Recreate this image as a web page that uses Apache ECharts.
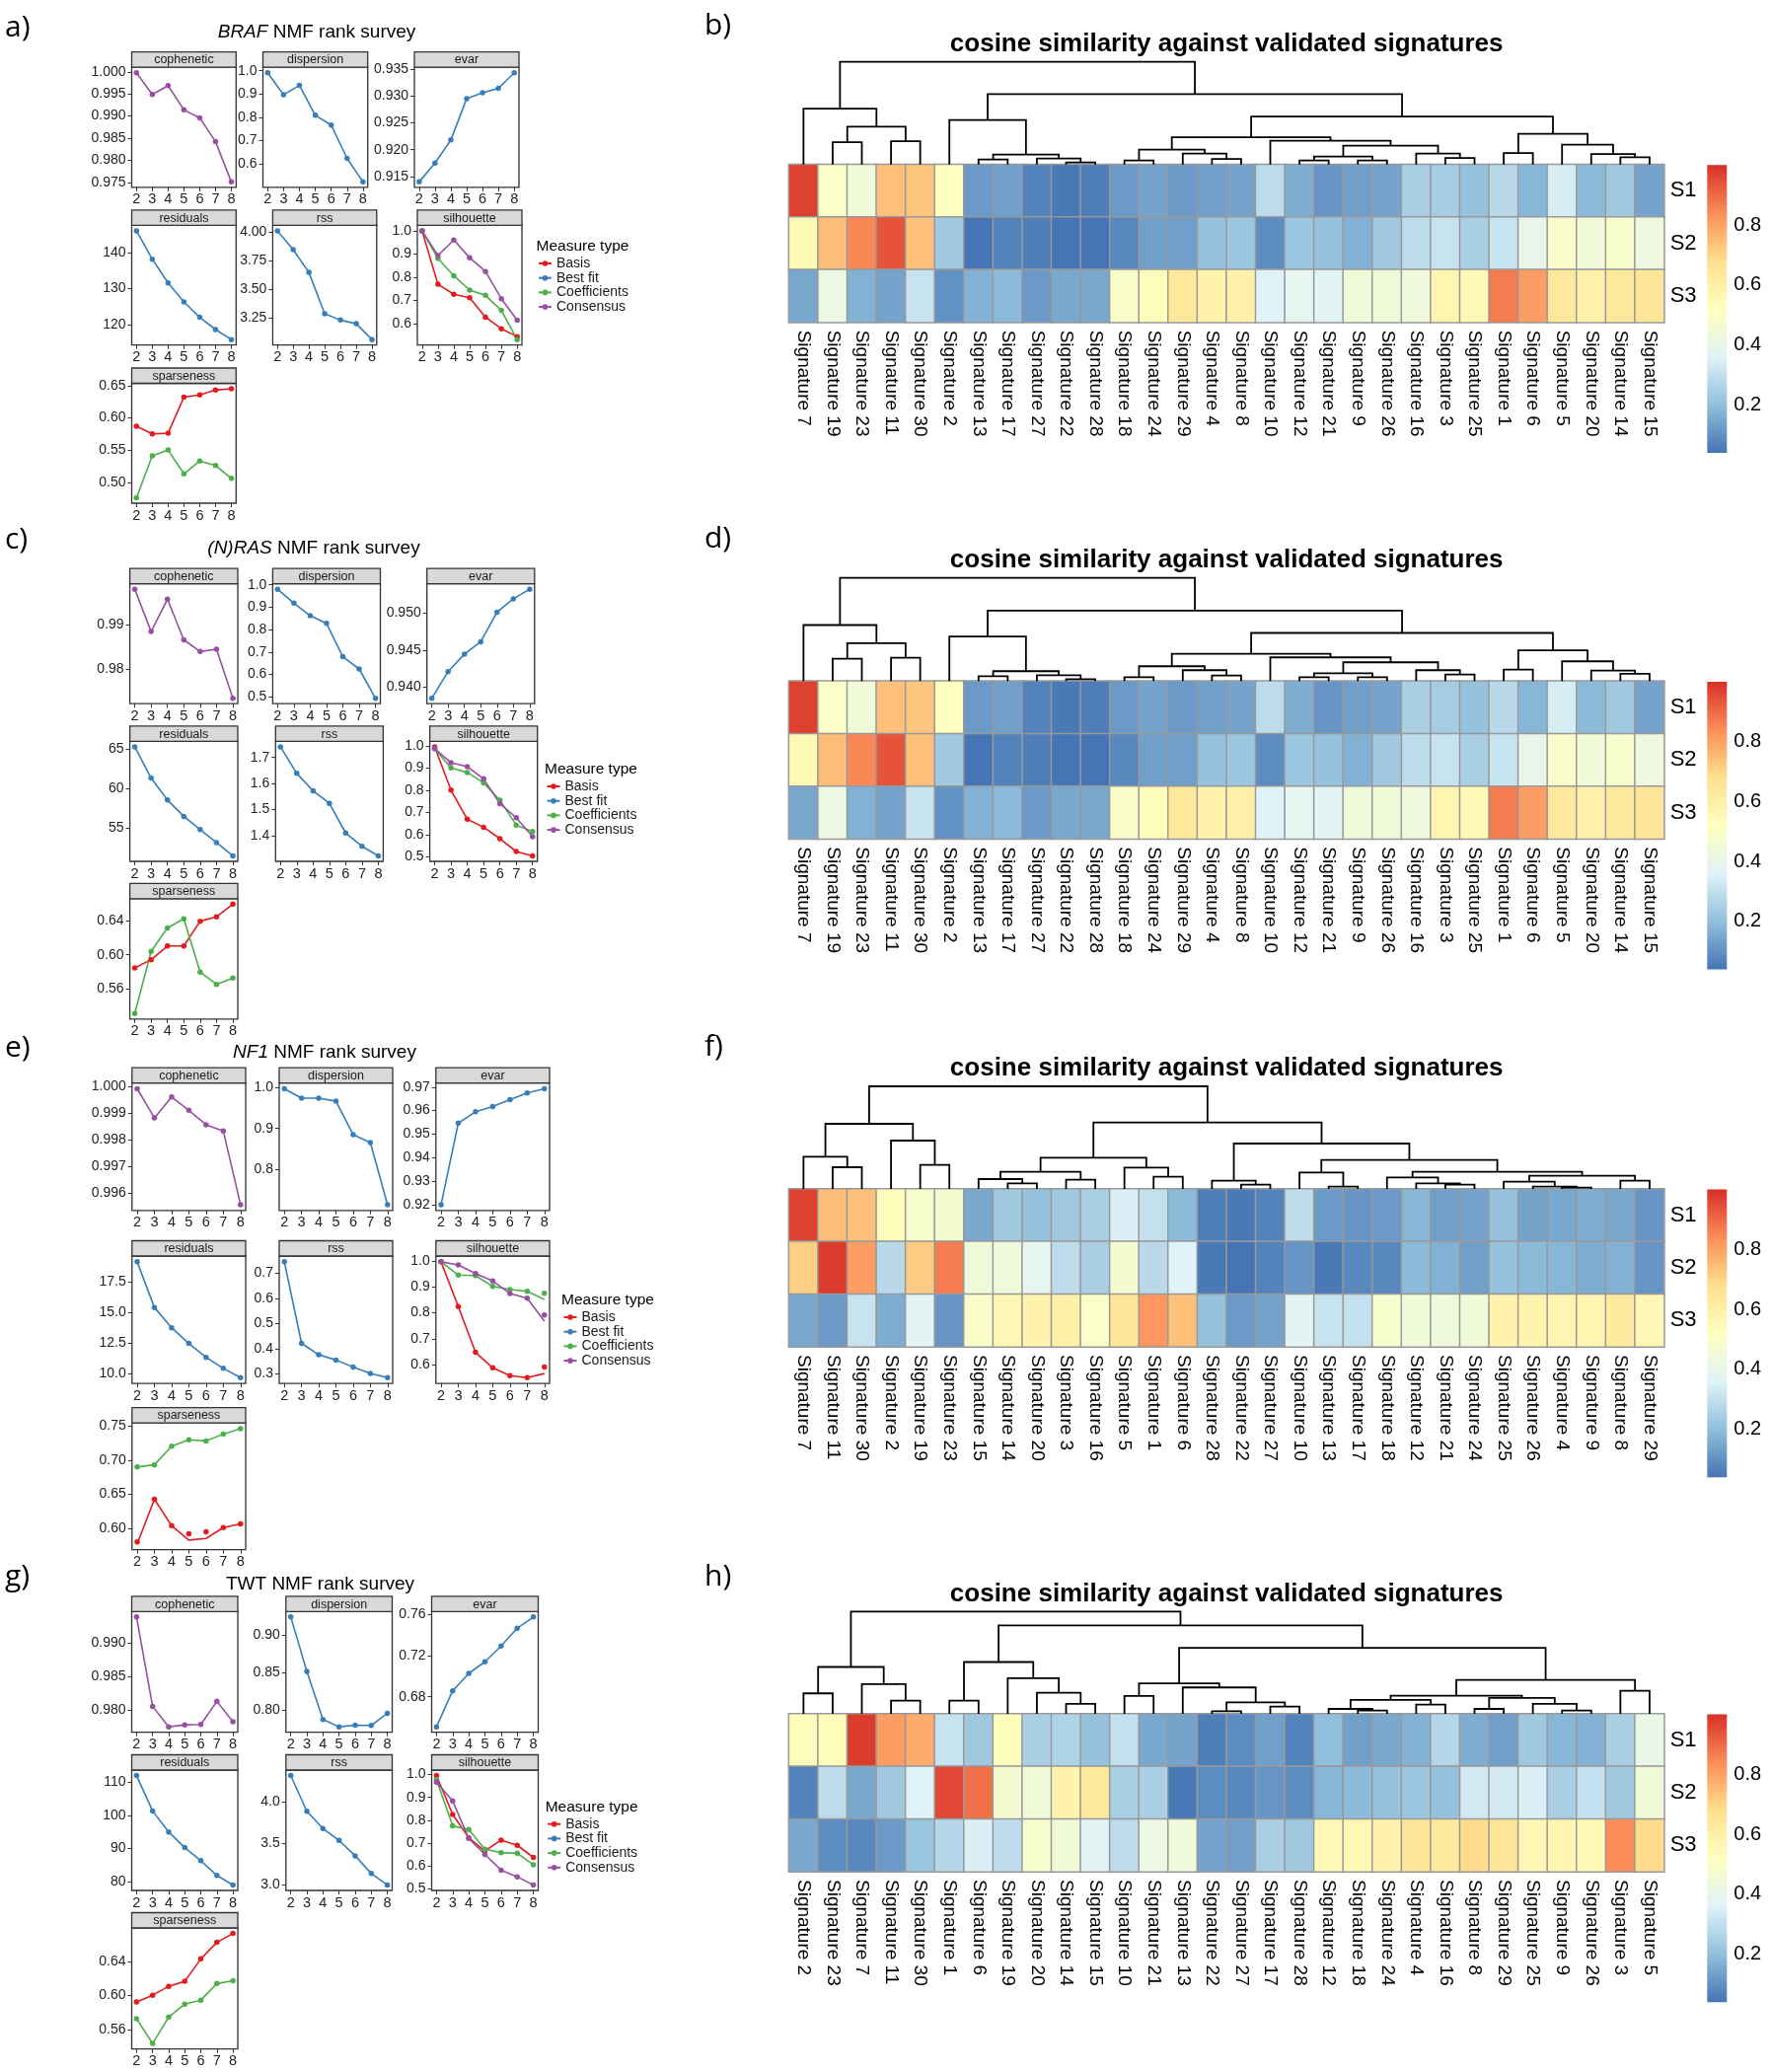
<!DOCTYPE html>
<html><head><meta charset="utf-8">
<script src="https://cdn.jsdelivr.net/npm/echarts@6/dist/echarts.min.js"></script>
<style>html,body{margin:0;padding:0;background:#fff}#c{width:1796px;height:2100px}</style>
</head><body><div id="c"></div>
<script>
// ---------------- DATA ----------------
const ranks = [2,3,4,5,6,7,8];
const measureTypes = ['Basis','Best fit','Coefficients','Consensus'];
const measureColors = ['#E41A1C','#377EB8','#4DAF4A','#984EA3'];

// BRAF
const braf_cophenetic = [0.9998,0.9949,0.9969,0.9914,0.9896,0.9842,0.9751];
const braf_dispersion = [0.9915,0.8975,0.937,0.809,0.767,0.624,0.523];
const braf_evar = [0.9140,0.9175,0.9218,0.9295,0.9306,0.9314,0.9343];
const braf_residuals = [146.1,138.2,131.6,126.3,122.0,118.6,115.8];
const braf_rss = [4.009,3.845,3.647,3.287,3.233,3.201,3.063];
const braf_silhouette_basis = [1.0,0.769,0.726,0.711,0.627,0.577,0.543];
const braf_silhouette_coef = [1.0,0.880,0.806,0.744,0.721,0.656,0.530];
const braf_silhouette_cons = [1.0,0.893,0.960,0.884,0.824,0.707,0.614];
const braf_sparseness_basis = [0.587,0.575,0.576,0.632,0.6355,0.643,0.645];
const braf_sparseness_coef = [0.476,0.541,0.550,0.513,0.533,0.526,0.506];
const braf_ticks_cophenetic = ['0.975','0.980','0.985','0.990','0.995','1.000'];
const braf_ticks_dispersion = ['0.6','0.7','0.8','0.9','1.0'];
const braf_ticks_evar = ['0.915','0.920','0.925','0.930','0.935'];
const braf_ticks_residuals = ['120','130','140'];
const braf_ticks_rss = ['3.25','3.50','3.75','4.00'];
const braf_ticks_silhouette = ['0.6','0.7','0.8','0.9','1.0'];
const braf_ticks_sparseness = ['0.50','0.55','0.60','0.65'];

// (N)RAS
const nras_cophenetic = [0.99811,0.98848,0.99583,0.98659,0.98394,0.98447,0.97333];
const nras_dispersion = [0.9807,0.918,0.862,0.828,0.6795,0.6246,0.494];
const nras_evar = [0.93852,0.94211,0.94448,0.94614,0.95013,0.95193,0.95323];
const nras_residuals = [65.34,61.36,58.56,56.48,54.79,53.14,51.44];
const nras_rss = [1.741,1.639,1.572,1.524,1.410,1.359,1.322];
const nras_silhouette_basis = [0.997,0.801,0.669,0.633,0.581,0.523,0.503];
const nras_silhouette_coef = [0.989,0.902,0.881,0.834,0.755,0.643,0.614];
const nras_silhouette_cons = [0.989,0.925,0.907,0.852,0.740,0.676,0.590];
const nras_sparseness_basis = [0.5843,0.5942,0.6105,0.6105,0.640,0.6452,0.6603];
const nras_sparseness_coef = [0.5301,0.6041,0.632,0.6428,0.5795,0.5648,0.5723];
const nras_ticks_cophenetic = ['0.98','0.99'];
const nras_ticks_dispersion = ['0.5','0.6','0.7','0.8','0.9','1.0'];
const nras_ticks_evar = ['0.940','0.945','0.950'];
const nras_ticks_residuals = ['55','60','65'];
const nras_ticks_rss = ['1.4','1.5','1.6','1.7'];
const nras_ticks_silhouette = ['0.5','0.6','0.7','0.8','0.9','1.0'];
const nras_ticks_sparseness = ['0.56','0.60','0.64'];

// NF1 (lines and points differ at some ranks)
const nf1_cophenetic = [0.99993,0.99884,0.99962,0.99912,0.99858,0.99835,0.99558];
const nf1_dispersion = [0.9974,0.9745,0.9745,0.9668,0.885,0.8655,0.7132];
const nf1_evar = [0.920,0.9547,0.9595,0.9617,0.9647,0.9675,0.9693];
const nf1_residuals = [19.11,15.40,13.75,12.48,11.35,10.45,9.69];
const nf1_rss = [0.7455,0.4214,0.3759,0.3552,0.3276,0.3014,0.2848];
const nf1_silhouette_basis_line = [0.997,0.824,0.648,0.588,0.558,0.550,0.566];
const nf1_silhouette_basis_pts  = [0.997,0.824,0.648,0.588,0.558,0.550,0.591];
const nf1_silhouette_coef_line = [0.997,0.946,0.944,0.902,0.890,0.883,0.852];
const nf1_silhouette_coef_pts  = [0.997,0.946,0.944,0.902,0.890,0.883,0.876];
const nf1_silhouette_cons_line = [0.997,0.985,0.952,0.923,0.875,0.857,0.768];
const nf1_silhouette_cons_pts  = [0.997,0.985,0.952,0.923,0.875,0.857,0.792];
const nf1_sparseness_basis_line = [0.577,0.6426,0.6037,0.5826,0.585,0.601,0.6063];
const nf1_sparseness_basis_pts  = [0.580,0.6426,0.6037,0.592,0.5947,0.601,0.6063];
const nf1_sparseness_coef = [0.690,0.6932,0.7205,0.730,0.7284,0.7384,0.7463];
const nf1_ticks_cophenetic = ['0.996','0.997','0.998','0.999','1.000'];
const nf1_ticks_dispersion = ['0.8','0.9','1.0'];
const nf1_ticks_evar = ['0.92','0.93','0.94','0.95','0.96','0.97'];
const nf1_ticks_residuals = ['10.0','12.5','15.0','17.5'];
const nf1_ticks_rss = ['0.3','0.4','0.5','0.6','0.7'];
const nf1_ticks_silhouette = ['0.6','0.7','0.8','0.9','1.0'];
const nf1_ticks_sparseness = ['0.60','0.65','0.70','0.75'];

// TWT
const twt_cophenetic = [0.99380,0.98059,0.97756,0.97785,0.9779,0.98132,0.9783];
const twt_dispersion = [0.9249,0.8516,0.7867,0.7769,0.7791,0.7787,0.7951];
const twt_evar = [0.6507,0.6858,0.7028,0.7141,0.7295,0.7468,0.7578];
const twt_residuals = [112.08,101.39,95.05,90.3,86.34,81.88,79.0];
const twt_rss = [4.312,3.881,3.672,3.530,3.344,3.130,2.992];
const twt_silhouette_basis = [0.996,0.825,0.723,0.665,0.713,0.690,0.637];
const twt_silhouette_coef = [0.978,0.775,0.759,0.673,0.658,0.655,0.605];
const twt_silhouette_cons = [0.967,0.885,0.720,0.650,0.581,0.552,0.516];
const twt_sparseness_basis = [0.5925,0.6003,0.6107,0.6165,0.6428,0.6622,0.6726];
const twt_sparseness_coef = [0.5728,0.5437,0.5747,0.5898,0.5945,0.6139,0.6173];
const twt_ticks_cophenetic = ['0.980','0.985','0.990'];
const twt_ticks_dispersion = ['0.80','0.85','0.90'];
const twt_ticks_evar = ['0.68','0.72','0.76'];
const twt_ticks_residuals = ['80','90','100','110'];
const twt_ticks_rss = ['3.0','3.5','4.0'];
const twt_ticks_silhouette = ['0.5','0.6','0.7','0.8','0.9','1.0'];
const twt_ticks_sparseness = ['0.56','0.60','0.64','0.68'];

// Heatmaps (cosine similarity), rows S1..S3
const rowNames = ['S1','S2','S3'];
const b_cols = ['Signature 7','Signature 19','Signature 23','Signature 11','Signature 30','Signature 2','Signature 13','Signature 17','Signature 27','Signature 22','Signature 28','Signature 18','Signature 24','Signature 29','Signature 4','Signature 8','Signature 10','Signature 12','Signature 21','Signature 9','Signature 26','Signature 16','Signature 3','Signature 25','Signature 1','Signature 6','Signature 5','Signature 20','Signature 14','Signature 15'];
const b_S1 = [0.97,0.50,0.45,0.74,0.73,0.52,0.12,0.13,0.07,0.05,0.06,0.12,0.14,0.12,0.13,0.14,0.29,0.16,0.11,0.13,0.14,0.25,0.24,0.21,0.28,0.18,0.34,0.19,0.23,0.14];
const b_S2 = [0.55,0.75,0.85,0.94,0.74,0.23,0.04,0.07,0.06,0.04,0.04,0.08,0.13,0.13,0.21,0.22,0.09,0.22,0.21,0.17,0.23,0.29,0.31,0.25,0.31,0.40,0.49,0.45,0.48,0.43];
const b_S3 = [0.15,0.42,0.17,0.14,0.31,0.10,0.17,0.19,0.12,0.15,0.15,0.49,0.53,0.64,0.58,0.59,0.36,0.39,0.37,0.45,0.45,0.44,0.57,0.55,0.87,0.81,0.64,0.59,0.64,0.65];
// merges: [childA, childB, height]; negative = leaf column (1-based), positive = earlier merge (1-based)
const b_merges = [[-2,-3,68],[-4,-5,71],[1,2,115],[-1,3,170],[-7,-8,15],[-10,-11,6],[-9,6,18],[5,7,30],[-6,8,135],[-12,-13,12],[-15,-16,17],[-14,11,33],[10,12,45],[-18,-19,12],[-20,-21,12],[14,15,24],[-23,-24,20],[-22,17,33],[16,18,57],[-17,19,72],[13,20,83],[-25,-26,35],[-29,-30,22],[-28,23,32],[-27,24,60],[22,25,93],[21,26,146],[9,27,214],[4,28,312]];

const d_cols = ['Signature 7','Signature 19','Signature 23','Signature 11','Signature 30','Signature 2','Signature 13','Signature 17','Signature 27','Signature 22','Signature 28','Signature 18','Signature 24','Signature 29','Signature 4','Signature 8','Signature 10','Signature 12','Signature 21','Signature 9','Signature 26','Signature 16','Signature 3','Signature 25','Signature 1','Signature 6','Signature 5','Signature 20','Signature 14','Signature 15'];
const d_S1 = [0.97,0.50,0.45,0.74,0.73,0.52,0.12,0.13,0.07,0.05,0.06,0.12,0.14,0.12,0.13,0.14,0.29,0.16,0.11,0.13,0.14,0.25,0.24,0.21,0.28,0.18,0.34,0.19,0.23,0.14];
const d_S2 = [0.55,0.75,0.85,0.94,0.74,0.23,0.04,0.07,0.06,0.04,0.04,0.08,0.13,0.13,0.21,0.22,0.09,0.22,0.21,0.17,0.23,0.29,0.31,0.25,0.31,0.40,0.49,0.45,0.48,0.43];
const d_S3 = [0.15,0.42,0.17,0.14,0.31,0.10,0.17,0.19,0.12,0.15,0.15,0.49,0.53,0.64,0.58,0.59,0.36,0.39,0.37,0.45,0.45,0.44,0.57,0.55,0.87,0.81,0.64,0.59,0.64,0.65];
const d_merges = [[-2,-3,68],[-4,-5,71],[1,2,115],[-1,3,170],[-7,-8,15],[-10,-11,6],[-9,6,18],[5,7,30],[-6,8,135],[-12,-13,12],[-15,-16,17],[-14,11,33],[10,12,45],[-18,-19,12],[-20,-21,12],[14,15,24],[-23,-24,20],[-22,17,33],[16,18,57],[-17,19,72],[13,20,83],[-25,-26,35],[-29,-30,22],[-28,23,32],[-27,24,60],[22,25,93],[21,26,146],[9,27,214],[4,28,313]];

const f_cols = ['Signature 7','Signature 11','Signature 30','Signature 2','Signature 19','Signature 23','Signature 15','Signature 14','Signature 20','Signature 3','Signature 16','Signature 5','Signature 1','Signature 6','Signature 28','Signature 22','Signature 27','Signature 10','Signature 13','Signature 17','Signature 18','Signature 12','Signature 21','Signature 24','Signature 25','Signature 26','Signature 4','Signature 9','Signature 8','Signature 29'];
const f_S1 = [0.97,0.75,0.74,0.53,0.48,0.47,0.15,0.23,0.21,0.23,0.25,0.35,0.30,0.19,0.06,0.05,0.07,0.29,0.12,0.11,0.12,0.18,0.13,0.14,0.21,0.14,0.15,0.16,0.15,0.11];
const f_S2 = [0.71,0.98,0.81,0.28,0.72,0.87,0.45,0.44,0.39,0.29,0.25,0.47,0.28,0.36,0.05,0.04,0.07,0.11,0.05,0.08,0.08,0.19,0.17,0.13,0.21,0.19,0.18,0.16,0.17,0.11];
const f_S3 = [0.15,0.12,0.31,0.16,0.37,0.11,0.49,0.56,0.58,0.60,0.50,0.65,0.82,0.74,0.21,0.12,0.14,0.37,0.31,0.30,0.48,0.45,0.44,0.45,0.58,0.58,0.57,0.57,0.63,0.56];
const f_merges = [[-2,-3,66],[-1,1,98],[-5,-6,73],[-4,3,147],[2,4,198],[-8,-9,17],[-7,6,30],[-10,-11,28],[7,8,52],[-13,-14,37],[-12,10,65],[9,11,95],[-16,-17,13],[-15,13,25],[-19,-20,7],[-18,15,50],[-23,-24,13],[-22,17,17],[-21,18,35],[-27,-28,4],[-26,20,7],[-25,21,22],[-29,-30,25],[22,23,40],[19,24,52],[16,25,88],[14,26,138],[12,27,202],[5,28,312]];

const h_cols = ['Signature 2','Signature 23','Signature 7','Signature 11','Signature 30','Signature 1','Signature 6','Signature 19','Signature 20','Signature 14','Signature 15','Signature 10','Signature 21','Signature 13','Signature 22','Signature 27','Signature 17','Signature 28','Signature 12','Signature 18','Signature 24','Signature 4','Signature 16','Signature 8','Signature 29','Signature 25','Signature 9','Signature 26','Signature 3','Signature 5'];
const h_S1 = [0.53,0.53,0.98,0.81,0.78,0.31,0.23,0.53,0.25,0.26,0.21,0.30,0.15,0.14,0.06,0.09,0.13,0.07,0.20,0.13,0.15,0.17,0.27,0.16,0.13,0.23,0.18,0.17,0.25,0.41];
const h_S2 = [0.07,0.29,0.15,0.23,0.36,0.96,0.89,0.47,0.45,0.58,0.64,0.25,0.25,0.05,0.09,0.08,0.11,0.09,0.18,0.19,0.21,0.22,0.21,0.33,0.33,0.35,0.25,0.30,0.23,0.45];
const h_S3 = [0.15,0.09,0.08,0.12,0.22,0.27,0.35,0.29,0.48,0.45,0.37,0.29,0.42,0.44,0.14,0.13,0.25,0.23,0.55,0.56,0.58,0.66,0.64,0.69,0.66,0.56,0.57,0.55,0.84,0.69];
const h_merges = [[-1,-2,62],[-4,-5,40],[-3,2,90],[1,3,142],[-6,-7,40],[-10,-11,30],[-9,6,64],[-8,7,108],[5,8,157],[-12,-13,54],[-15,-16,8],[-17,-18,22],[11,12,35],[-14,13,80],[10,14,92],[-20,-21,10],[-19,16,15],[-22,-23,28],[17,18,42],[-24,-25,15],[-27,-28,10],[-26,21,30],[20,22,48],[19,23,55],[-29,-30,70],[24,25,103],[15,26,200],[9,27,268],[4,28,310]];

const cbMin = 0.04, cbMax = 1.0;
const cbTicks = [0.2,0.4,0.6,0.8];
const palette = ['#4575B4','#91BFDB','#E0F3F8','#FFFFBF','#FEE090','#FC8D59','#D73027'];

// ---------------- LAYOUT ----------------
const FONT = '"Liberation Sans", Arial, Helvetica, sans-serif';
const LETTER_FONT = '"Open Sans", "Liberation Sans", sans-serif';
const STRIP_H = 15.5;
const PANEL_ROW = {cophenetic:0, dispersion:0, evar:0, residuals:1, rss:1, silhouette:1, sparseness:2};
const L_braf = {rows:[[68.2,189.9],[228.4,349.7],[388.5,510]], x:{cophenetic:[133.5,239.3],dispersion:[266.5,372.7],evar:[420,526],residuals:[133.5,239.3],rss:[276.4,381.8],silhouette:[423,529],sparseness:[133.5,239.3]}, legend:[543.5,250], title:[321,33], letter:[5,28]};
const L_nras = {rows:[[591.6,713.2],[751.4,873],[910.8,1032.8]], x:{cophenetic:[131.6,241],dispersion:[276.4,385.5],evar:[432.7,541.8],residuals:[131.6,241],rss:[279.3,388.4],silhouette:[435.6,544.7],sparseness:[131.6,241]}, legend:[552,780], title:[318,556], letter:[5,547]};
const L_nf1 = {rows:[[1097.6,1226.8],[1273,1402.2],[1442.2,1570.6]], x:{cophenetic:[133.8,249],dispersion:[283,398],evar:[441.8,557],residuals:[133.8,249],rss:[283,398],silhouette:[441.8,557],sparseness:[133.8,249]}, legend:[569,1318], title:[329,1067], letter:[5,1062]};
const L_twt = {rows:[[1633.3,1755.7],[1794,1916],[1954,2076.7]], x:{cophenetic:[133.5,241],dispersion:[289.8,397.5],evar:[437.5,545.5],residuals:[133.5,241],rss:[289.8,397.5],silhouette:[437.5,545.5],sparseness:[133.5,241]}, legend:[552.7,1831.7], title:[324.5,1606], letter:[5,1598]};

const HM_LEFT = 799.6, HM_W = 887.1, HM_H = 160;
const CB_LEFT = 1730.3, CB_W = 20, CB_H = 291.7;

const surveys = [
  {title:'{i|BRAF} NMF rank survey', letter:'a)', L:L_braf, panels:[
    {m:'cophenetic', ticks:braf_ticks_cophenetic, s:[{t:'Consensus', v:braf_cophenetic}]},
    {m:'dispersion', ticks:braf_ticks_dispersion, s:[{t:'Best fit', v:braf_dispersion}]},
    {m:'evar', ticks:braf_ticks_evar, s:[{t:'Best fit', v:braf_evar}]},
    {m:'residuals', ticks:braf_ticks_residuals, s:[{t:'Best fit', v:braf_residuals}]},
    {m:'rss', ticks:braf_ticks_rss, s:[{t:'Best fit', v:braf_rss}]},
    {m:'silhouette', ticks:braf_ticks_silhouette, s:[{t:'Basis', v:braf_silhouette_basis},{t:'Coefficients', v:braf_silhouette_coef},{t:'Consensus', v:braf_silhouette_cons}]},
    {m:'sparseness', ticks:braf_ticks_sparseness, s:[{t:'Basis', v:braf_sparseness_basis},{t:'Coefficients', v:braf_sparseness_coef}]}
  ]},
  {title:'{i|(N)RAS} NMF rank survey', letter:'c)', L:L_nras, panels:[
    {m:'cophenetic', ticks:nras_ticks_cophenetic, s:[{t:'Consensus', v:nras_cophenetic}]},
    {m:'dispersion', ticks:nras_ticks_dispersion, s:[{t:'Best fit', v:nras_dispersion}]},
    {m:'evar', ticks:nras_ticks_evar, s:[{t:'Best fit', v:nras_evar}]},
    {m:'residuals', ticks:nras_ticks_residuals, s:[{t:'Best fit', v:nras_residuals}]},
    {m:'rss', ticks:nras_ticks_rss, s:[{t:'Best fit', v:nras_rss}]},
    {m:'silhouette', ticks:nras_ticks_silhouette, s:[{t:'Basis', v:nras_silhouette_basis},{t:'Coefficients', v:nras_silhouette_coef},{t:'Consensus', v:nras_silhouette_cons}]},
    {m:'sparseness', ticks:nras_ticks_sparseness, s:[{t:'Basis', v:nras_sparseness_basis},{t:'Coefficients', v:nras_sparseness_coef}]}
  ]},
  {title:'{i|NF1} NMF rank survey', letter:'e)', L:L_nf1, panels:[
    {m:'cophenetic', ticks:nf1_ticks_cophenetic, s:[{t:'Consensus', v:nf1_cophenetic}]},
    {m:'dispersion', ticks:nf1_ticks_dispersion, s:[{t:'Best fit', v:nf1_dispersion}]},
    {m:'evar', ticks:nf1_ticks_evar, s:[{t:'Best fit', v:nf1_evar}]},
    {m:'residuals', ticks:nf1_ticks_residuals, s:[{t:'Best fit', v:nf1_residuals}]},
    {m:'rss', ticks:nf1_ticks_rss, s:[{t:'Best fit', v:nf1_rss}]},
    {m:'silhouette', ticks:nf1_ticks_silhouette, s:[{t:'Basis', v:nf1_silhouette_basis_line, p:nf1_silhouette_basis_pts},{t:'Coefficients', v:nf1_silhouette_coef_line, p:nf1_silhouette_coef_pts},{t:'Consensus', v:nf1_silhouette_cons_line, p:nf1_silhouette_cons_pts}]},
    {m:'sparseness', ticks:nf1_ticks_sparseness, s:[{t:'Basis', v:nf1_sparseness_basis_line, p:nf1_sparseness_basis_pts},{t:'Coefficients', v:nf1_sparseness_coef}]}
  ]},
  {title:'TWT NMF rank survey', letter:'g)', L:L_twt, panels:[
    {m:'cophenetic', ticks:twt_ticks_cophenetic, s:[{t:'Consensus', v:twt_cophenetic}]},
    {m:'dispersion', ticks:twt_ticks_dispersion, s:[{t:'Best fit', v:twt_dispersion}]},
    {m:'evar', ticks:twt_ticks_evar, s:[{t:'Best fit', v:twt_evar}]},
    {m:'residuals', ticks:twt_ticks_residuals, s:[{t:'Best fit', v:twt_residuals}]},
    {m:'rss', ticks:twt_ticks_rss, s:[{t:'Best fit', v:twt_rss}]},
    {m:'silhouette', ticks:twt_ticks_silhouette, s:[{t:'Basis', v:twt_silhouette_basis},{t:'Coefficients', v:twt_silhouette_coef},{t:'Consensus', v:twt_silhouette_cons}]},
    {m:'sparseness', ticks:twt_ticks_sparseness, s:[{t:'Basis', v:twt_sparseness_basis},{t:'Coefficients', v:twt_sparseness_coef}]}
  ]}
];

const heatmaps = [
  {letter:'b)', cols:b_cols, rows:[b_S1,b_S2,b_S3], merges:b_merges, top:166.7, root:62.7, titleY:45, letterY:26},
  {letter:'d)', cols:d_cols, rows:[d_S1,d_S2,d_S3], merges:d_merges, top:690.3, root:585.7, titleY:568, letterY:546},
  {letter:'f)', cols:f_cols, rows:[f_S1,f_S2,f_S3], merges:f_merges, top:1205, root:1101, titleY:1083, letterY:1061},
  {letter:'h)', cols:h_cols, rows:[h_S1,h_S2,h_S3], merges:h_merges, top:1737, root:1633.3, titleY:1616, letterY:1598}
];

// ---------------- BUILD ----------------
const grids=[], xAxes=[], yAxes=[], series=[], graphics=[], legends=[], hmSeries=[];
const AX_COL = '#222';

function txt(x, y, text, font, align, fill) {
  return {type:'text', x, y, z:20, silent:true, style:{text, font, fill:fill||'#000', align:align||'left', verticalAlign:'middle', textAlign:align||'left', textVerticalAlign:'middle'}};
}

surveys.forEach(sv => {
  const L = sv.L;
  sv.panels.forEach(p => {
    const row = PANEL_ROW[p.m];
    const [x0, x1] = L.x[p.m];
    const [y0, y1] = L.rows[row];
    const gi = grids.length;
    grids.push({left:x0, top:y0, width:x1-x0, height:y1-y0, show:true, borderColor:'#333', borderWidth:1.3, backgroundColor:'#fff'});
    let all = [];
    p.s.forEach(s => { all = all.concat(s.v, s.p || []); });
    const lo = Math.min(...all), hi = Math.max(...all), pad = (hi - lo) * 0.05;
    const tickNums = p.ticks.map(Number);
    xAxes.push({type:'value', gridIndex:gi, min:ranks[0]-0.3, max:ranks[ranks.length-1]+0.3, splitLine:{show:false}, axisLine:{show:false},
      axisTick:{show:true, length:4, lineStyle:{color:'#333', width:1}, customValues:ranks},
      axisLabel:{customValues:ranks, fontSize:14.5, color:AX_COL, fontFamily:FONT, margin:5}});
    yAxes.push({type:'value', gridIndex:gi, min:lo-pad, max:hi+pad, splitLine:{show:false}, axisLine:{show:false},
      axisTick:{show:true, length:4, lineStyle:{color:'#333', width:1}, customValues:tickNums},
      axisLabel:{customValues:tickNums, fontSize:14, color:AX_COL, fontFamily:FONT, margin:6,
        formatter: v => { const i = tickNums.findIndex(t => Math.abs(t - v) < 1e-9); return i >= 0 ? p.ticks[i] : ''; }}});
    p.s.forEach(s => {
      const col = measureColors[measureTypes.indexOf(s.t)];
      series.push({type:'line', name:s.t, xAxisIndex:gi, yAxisIndex:gi, data:ranks.map((r,i)=>[r, s.v[i]]),
        symbol:'circle', symbolSize:5.5, showSymbol:false, lineStyle:{color:col, width:1.6}, itemStyle:{color:col}, silent:true, z:3});
      series.push({type:'scatter', name:s.t, xAxisIndex:gi, yAxisIndex:gi, data:ranks.map((r,i)=>[r, (s.p || s.v)[i]]),
        symbol:'circle', symbolSize:5.5, itemStyle:{color:col, opacity:1}, silent:true, z:4});
    });
    graphics.push({type:'rect', z:10, silent:true, shape:{x:x0, y:y0-STRIP_H, width:x1-x0, height:STRIP_H}, style:{fill:'#D9D9D9', stroke:'#333', lineWidth:1.3}});
    graphics.push(txt((x0+x1)/2, y0-STRIP_H/2+0.5, p.m, '12.5px '+FONT, 'center', '#1a1a1a'));
  });
  // title with italic gene name
  graphics.push({type:'text', x:L.title[0], y:L.title[1], z:20, silent:true, style:{text:sv.title, fontSize:19, fontFamily:FONT, fill:'#000', align:'center', verticalAlign:'middle', textAlign:'center', textVerticalAlign:'middle',
    rich:{i:{fontStyle:'italic', fontSize:19, fontFamily:FONT, fill:'#000', color:'#000'}}}});
  graphics.push(txt(L.letter[0], L.letter[1], sv.letter, '30px '+LETTER_FONT, 'left'));
  // legend
  graphics.push(txt(L.legend[0], L.legend[1], 'Measure type', '15.5px '+FONT, 'left'));
  legends.push({orient:'vertical', left:L.legend[0]+1.5, top:L.legend[1]+17-7, padding:0, itemWidth:13, itemHeight:7, itemGap:0.7,
    selectedMode:false, data:measureTypes, textStyle:{fontSize:14, fontFamily:FONT, color:'#1a1a1a'}});
});

function dendroSegments(merges) {
  const pos = [], ht = [], segs = [];
  const gx = id => id < 0 ? (-id - 1) : pos[id - 1];
  const gh = id => id < 0 ? 0 : ht[id - 1];
  merges.forEach(([a, b, h], i) => {
    const xa = gx(a), xb = gx(b);
    segs.push([xa, xb, gh(a), gh(b), h]);
    pos[i] = (xa + xb) / 2; ht[i] = h;
  });
  return segs;
}
function dendroRender(params, api) {
  const xl = api.value(0), xr = api.value(1), hl = api.value(2), hr = api.value(3), h = api.value(4);
  const pts = [api.coord([xl, hl]), api.coord([xl, h]), api.coord([xr, h]), api.coord([xr, hr])];
  return {type:'polyline', shape:{points:pts}, style:{stroke:'#000', lineWidth:1.8, fill:null}};
}
function cbRender(params, api) {
  const cs = params.coordSys;
  const stops = palette.map((c, i) => ({offset: i/(palette.length-1), color: palette[palette.length-1-i]}));
  return {type:'rect', shape:{x:cs.x, y:cs.y, width:cs.width, height:cs.height},
    style:{fill:{type:'linear', x:0, y:0, x2:0, y2:1, colorStops:stops}}};
}

heatmaps.forEach(hm => {
  // heatmap cells
  const gi = grids.length;
  grids.push({left:HM_LEFT, top:hm.top, width:HM_W, height:HM_H, show:false});
  xAxes.push({type:'category', gridIndex:gi, data:hm.cols, axisLine:{show:false}, axisTick:{show:false}, splitLine:{show:false},
    axisLabel:{rotate:-90, interval:0, fontSize:19, fontFamily:FONT, color:'#000', margin:8}});
  yAxes.push({type:'category', gridIndex:gi, data:rowNames.slice().reverse(), position:'right', axisLine:{show:false}, axisTick:{show:false}, splitLine:{show:false},
    axisLabel:{fontSize:22, fontFamily:FONT, color:'#000', margin:6}});
  const data = [];
  hm.rows.forEach((row, ri) => row.forEach((v, ci) => data.push([ci, rowNames.length-1-ri, v])));
  hmSeries.push(series.length);
  series.push({type:'heatmap', xAxisIndex:gi, yAxisIndex:gi, data, itemStyle:{borderColor:'#999', borderWidth:1.5}, emphasis:{disabled:true}, silent:true});
  // dendrogram
  const gd = grids.length;
  grids.push({left:HM_LEFT, top:hm.root, width:HM_W, height:hm.top-hm.root, show:false});
  const segs = dendroSegments(hm.merges);
  const maxH = Math.max(...hm.merges.map(m => m[2]));
  xAxes.push({type:'value', gridIndex:gd, min:-0.5, max:hm.cols.length-0.5, show:false});
  yAxes.push({type:'value', gridIndex:gd, min:0, max:maxH, show:false});
  series.push({type:'custom', xAxisIndex:gd, yAxisIndex:gd, data:segs, renderItem:dendroRender, encode:{x:[0,1], y:[2,3,4]}, silent:true, clip:false});
  // colour bar
  const gc = grids.length;
  grids.push({left:CB_LEFT, top:hm.top+0.6, width:CB_W, height:CB_H, show:false});
  xAxes.push({type:'value', gridIndex:gc, min:0, max:1, show:false});
  yAxes.push({type:'value', gridIndex:gc, min:cbMin, max:cbMax, position:'right', axisLine:{show:false}, axisTick:{show:false}, splitLine:{show:false},
    axisLabel:{customValues:cbTicks, formatter:v => v.toFixed(1), fontSize:20, fontFamily:FONT, color:'#000', margin:7}});
  series.push({type:'custom', xAxisIndex:gc, yAxisIndex:gc, data:[[0, cbMin]], renderItem:cbRender, silent:true});
  // title + letter
  graphics.push(txt(HM_LEFT + HM_W/2, hm.titleY, 'cosine similarity against validated signatures', 'bold 26px '+FONT, 'center'));
  graphics.push(txt(714, hm.letterY, hm.letter, '30px '+LETTER_FONT, 'left'));
});

const chart = echarts.init(document.getElementById('c'), null, {renderer:'canvas', width:1796, height:2100});
chart.setOption({
  backgroundColor:'#fff',
  animation:false,
  textStyle:{fontFamily:FONT},
  grid:grids, xAxis:xAxes, yAxis:yAxes, series,
  legend:legends,
  visualMap:{type:'continuous', show:false, min:cbMin, max:cbMax, dimension:2, seriesIndex:hmSeries, inRange:{color:palette}},
  graphic:{elements:graphics}
});
</script>
</body></html>
